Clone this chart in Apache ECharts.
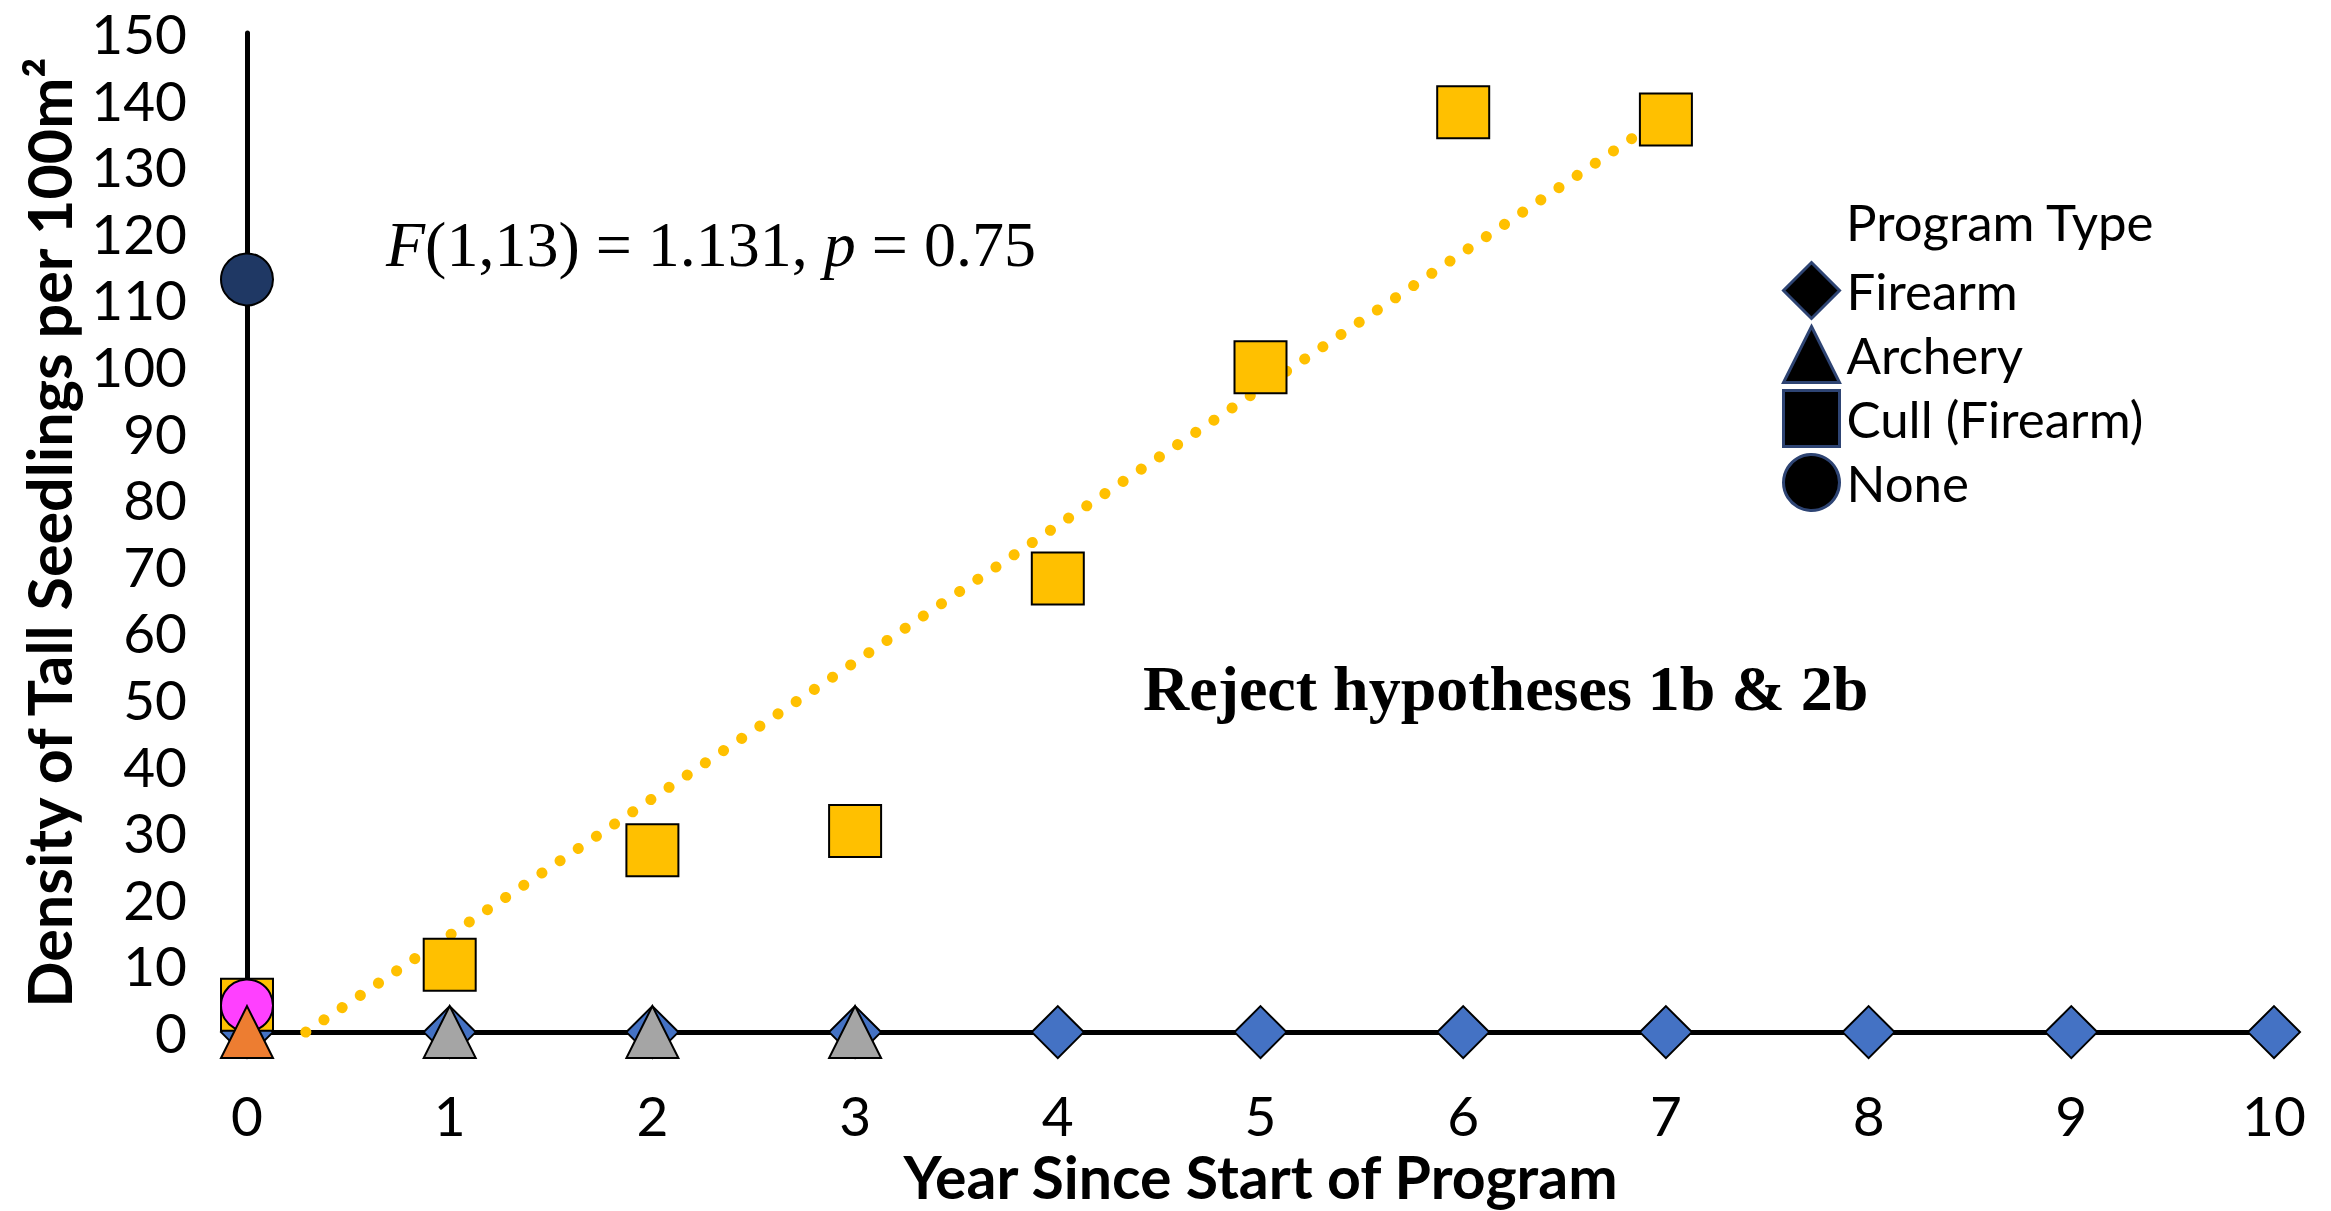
<!DOCTYPE html>
<html>
<head>
<meta charset="utf-8">
<script src="https://cdn.jsdelivr.net/npm/echarts@6/dist/echarts.min.js"></script>
<style>
html,body{margin:0;padding:0;background:#fff;}
#chart{width:2331px;height:1211px;}
</style>
</head>
<body>
<div id="chart"></div>
<script>
// ---- data ----
const xTicks = [0,1,2,3,4,5,6,7,8,9,10];
const firearmYears = [0,1,2,3,4,5,6,7,8,9,10];
const firearmValues = [0,0,0,0,0,0,0,0,0,0,0];
const archeryYears = [0,1,2,3];
const archeryValues = [0,0,0,0];
const cullYears = [0,1,2,3,4,5,6,7];
const cullValues = [4.1,10.1,27.3,30.2,68.1,99.8,138.1,137.0];
const noneYears = [0,0];
const noneValues = [113,4];
const trendYears = [0.29,7];
const trendValues = [0,137.6];
const seriesNames = ['Firearm','Archery','Cull (Firearm)','None'];
const legendTitle = 'Program Type';
const xTitle = 'Year Since Start of Program';
const yTitle = 'Density of Tall Seedlings per 100m\u00B2';
const statText = ['F','(1,13) = 1.131, ','p',' = 0.75'];
const conclusion = 'Reject hypotheses 1b & 2b';

// ---- styles ----
const archeryColors = ['#ED7D31','#A5A5A5','#A5A5A5','#A5A5A5'];
const noneColors = ['#1F3864','#FF40FF'];
const SANS = 'Lato';
const SERIF = 'Liberation Serif';

function pts(xs, ys, colors){
  return xs.map((x,i)=>{
    const d = {value:[x, ys[i]]};
    if(colors) d.itemStyle = {color: colors[i]};
    return d;
  });
}
const markerBorder = {borderColor:'#000', borderWidth:2, opacity:1};

const chart = echarts.init(document.getElementById('chart'), null, {renderer:'svg'});
chart.setOption({
  backgroundColor:'#fff',
  animation:false,
  grid:{left:247, right:57, top:33, bottom:166, containLabel:false},
  xAxis:{
    type:'value', min:0, max:10, interval:1,
    axisLine:{show:true, onZero:false, lineStyle:{color:'#000', width:5}},
    axisTick:{show:false}, splitLine:{show:false},
    axisLabel:{color:'#000', fontFamily:SANS, fontSize:55, lineHeight:55, margin:55,
      formatter:(v)=> xTicks.indexOf(v)>=0 ? String(v) : ''},
    name:xTitle, nameLocation:'middle', nameGap:101,
    nameTextStyle:{color:'#000', fontFamily:SANS, fontWeight:'bold', fontSize:59, lineHeight:59}
  },
  yAxis:{
    type:'value', min:0, max:150, interval:10,
    axisLine:{show:true, onZero:false, lineStyle:{color:'#000', width:5}},
    axisTick:{show:false}, splitLine:{show:false},
    axisLabel:{color:'#000', fontFamily:SANS, fontSize:55, margin:60},
    name:yTitle, nameLocation:'middle', nameRotate:90, nameGap:168,
    nameTextStyle:{color:'#000', fontFamily:SANS, fontWeight:'bold', fontSize:61, lineHeight:61}
  },
  legend:{
    data:seriesNames,
    orient:'vertical', left:1777, top:256,
    itemWidth:56, itemHeight:56, itemGap:5,
    itemStyle:{color:'#000', borderColor:'#2E4473', borderWidth:3},
    textStyle:{color:'#000', fontFamily:SANS, fontSize:51, padding:[0,0,0,2]},
    selectedMode:false
  },
  graphic:[
    {type:'text', left:1846, top:226-30,
      style:{text:legendTitle, fill:'#000', font:'51px '+SANS, textVerticalAlign:'top'}},
    {type:'text', left:386, top:248-36,
      style:{
        text:'{i|'+statText[0]+'}{n|'+statText[1]+'}{i|'+statText[2]+'}{n|'+statText[3]+'}',
        rich:{
          i:{fontFamily:SERIF, fontStyle:'italic', fontSize:64, fill:'#000', lineHeight:72},
          n:{fontFamily:SERIF, fontSize:64, fill:'#000', lineHeight:72}
        }
      }},
    {type:'text', left:1143, top:688-36,
      style:{text:conclusion, fill:'#000', font:'bold 64px '+SERIF, lineHeight:72}}
  ],
  series:[
    {name:seriesNames[0], type:'scatter', z:2, symbol:'diamond', symbolSize:52, clip:false,
      itemStyle:Object.assign({color:'#4472C4'}, markerBorder),
      data:pts(firearmYears, firearmValues)},
    {name:'trend', type:'line', z:3, symbol:'none', clip:false, silent:true,
      lineStyle:{color:'#FFC000', width:11, type:[0.1,21.8], cap:'round', opacity:1},
      data:trendYears.map((x,i)=>[x, trendValues[i]])},
    {name:seriesNames[2], type:'scatter', z:4, symbol:'rect', symbolSize:52, clip:false,
      itemStyle:Object.assign({color:'#FFC000'}, markerBorder),
      data:pts(cullYears, cullValues)},
    {name:seriesNames[3], type:'scatter', z:5, symbol:'circle', symbolSize:52, clip:false,
      itemStyle:Object.assign({color:'#1F3864'}, markerBorder),
      data:pts(noneYears, noneValues, noneColors)},
    {name:seriesNames[1], type:'scatter', z:6, symbol:'triangle', symbolSize:52, clip:false,
      itemStyle:Object.assign({color:'#A5A5A5'}, markerBorder),
      data:pts(archeryYears, archeryValues, archeryColors)}
  ]
});
</script>
</body>
</html>
